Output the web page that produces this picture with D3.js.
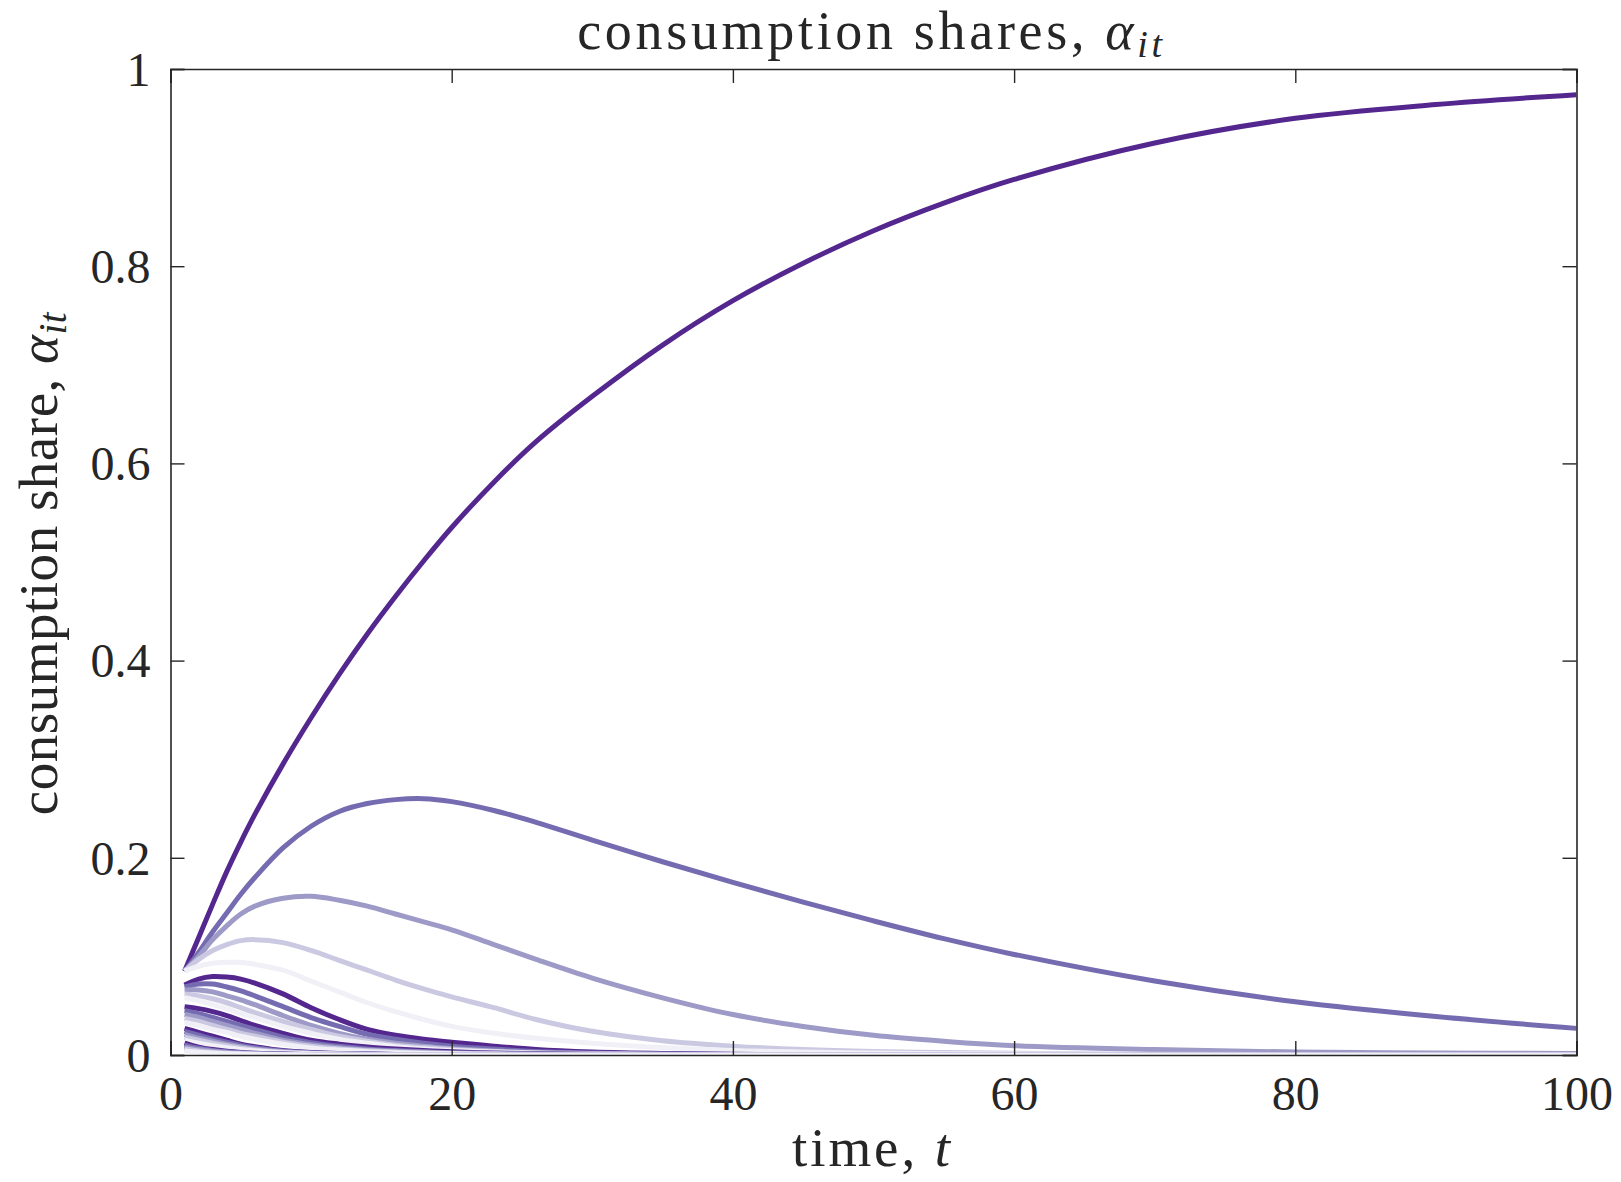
<!DOCTYPE html>
<html>
<head>
<meta charset="utf-8">
<script src="https://cdn.jsdelivr.net/npm/d3@7"></script>
<style>
  html, body { margin: 0; padding: 0; background: #ffffff; }
  svg { display: block; }
  text { font-family: "Liberation Serif", "Times New Roman", serif; fill: #262626; }
</style>
</head>
<body>
<svg id="chart" width="1621" height="1182"></svg>
<script>
// ---- data ----
const time = [1,2,3,4,5,6,8,10,12,14,16,18,20,23,26,30,35,40,45,50,55,60,70,80,90,100];

const s01 = [0.085,0.119,0.153,0.186,0.216,0.244,0.295,0.342,0.386,0.427,0.465,0.501,0.535,0.581,0.622,0.668,0.720,0.765,0.803,0.836,0.864,0.888,0.925,0.950,0.964,0.974];
const s02 = [0.085,0.104,0.125,0.144,0.163,0.180,0.210,0.232,0.247,0.255,0.259,0.260,0.257,0.248,0.236,0.218,0.196,0.175,0.155,0.136,0.118,0.102,0.075,0.054,0.039,0.027];
const s03 = [0.085,0.100,0.117,0.131,0.143,0.151,0.159,0.161,0.157,0.151,0.143,0.135,0.127,0.112,0.097,0.078,0.058,0.041,0.029,0.020,0.014,0.0095,0.0055,0.003,0.002,0.0015];
const s04 = [0.085,0.097,0.106,0.112,0.116,0.117,0.114,0.106,0.096,0.086,0.076,0.067,0.059,0.048,0.036,0.024,0.0145,0.009,0.0055,0.0035,0.0025,0.0017,0.0008,0.0004,0.0002,0.0001];
const s05 = [0.085,0.090,0.093,0.094,0.094,0.092,0.086,0.075,0.064,0.053,0.044,0.036,0.029,0.022,0.017,0.012,0.0075,0.0045,0.003,0.002,0.0013,0.001,0.0005,0.0002,0.0001,0];
const s06 = [0.071,0.077,0.0795,0.079,0.077,0.073,0.062,0.048,0.036,0.026,0.020,0.016,0.013,0.009,0.0055,0.003,0.0015,0.0008,0.0004,0.0002,0.0001,0,0,0,0,0];
const s07 = [0.069,0.072,0.072,0.069,0.065,0.060,0.049,0.038,0.029,0.021,0.016,0.012,0.009,0.006,0.0035,0.002,0.001,0.0005,0.0002,0.0001,0,0,0,0,0,0];
const s08 = [0.066,0.066,0.064,0.060,0.056,0.051,0.040,0.030,0.022,0.016,0.012,0.009,0.0065,0.004,0.0025,0.0015,0.0007,0.0003,0.0001,0,0,0,0,0,0,0];
const s09 = [0.062,0.060,0.057,0.053,0.048,0.043,0.034,0.026,0.019,0.014,0.010,0.0075,0.0055,0.0035,0.002,0.0012,0.0005,0.0002,0.0001,0,0,0,0,0,0,0];
const s10 = [0.058,0.055,0.051,0.047,0.042,0.038,0.029,0.022,0.016,0.012,0.0085,0.0062,0.0045,0.003,0.0018,0.001,0.0004,0.0002,0,0,0,0,0,0,0,0];
const s11 = [0.049,0.047,0.044,0.040,0.035,0.030,0.022,0.015,0.011,0.008,0.006,0.0045,0.0033,0.002,0.0012,0.0007,0.0003,0.0001,0,0,0,0,0,0,0,0];
const s12 = [0.045,0.042,0.038,0.034,0.030,0.026,0.018,0.0125,0.0088,0.0062,0.0045,0.0033,0.0024,0.0015,0.001,0.0005,0.0002,0.0001,0,0,0,0,0,0,0,0];
const s13 = [0.041,0.038,0.034,0.030,0.026,0.022,0.015,0.0105,0.0073,0.0051,0.0037,0.0027,0.0019,0.0012,0.0007,0.0004,0.0002,0,0,0,0,0,0,0,0,0];
const s14 = [0.037,0.034,0.030,0.026,0.022,0.019,0.013,0.0088,0.006,0.0042,0.003,0.0021,0.0015,0.0009,0.0005,0.0003,0.0001,0,0,0,0,0,0,0,0,0];
const s15 = [0.033,0.030,0.026,0.023,0.019,0.016,0.011,0.0072,0.005,0.0034,0.0024,0.0017,0.0012,0.0007,0.0004,0.0002,0,0,0,0,0,0,0,0,0,0];
const s16 = [0.027,0.023,0.019,0.015,0.011,0.0085,0.0045,0.0025,0.0015,0.001,0.0006,0.0004,0.0003,0.0002,0.0001,0,0,0,0,0,0,0,0,0,0,0];
const s17 = [0.024,0.020,0.016,0.013,0.0098,0.0074,0.004,0.0022,0.0013,0.0008,0.0005,0.0003,0.0002,0.0001,0,0,0,0,0,0,0,0,0,0,0,0];
const s18 = [0.021,0.017,0.014,0.011,0.0083,0.0062,0.0034,0.0019,0.0011,0.0007,0.0004,0.0003,0.0002,0.0001,0,0,0,0,0,0,0,0,0,0,0,0];
const s19 = [0.018,0.015,0.012,0.0093,0.007,0.0052,0.0028,0.0016,0.0009,0.0005,0.0003,0.0002,0.0001,0,0,0,0,0,0,0,0,0,0,0,0,0];
const s20 = [0.015,0.012,0.0095,0.0075,0.0057,0.0043,0.0023,0.0013,0.0007,0.0004,0.0003,0.0002,0.0001,0,0,0,0,0,0,0,0,0,0,0,0,0];
const s21 = [0.012,0.008,0.0055,0.0038,0.0026,0.0018,0.0009,0.0004,0.0002,0.0001,0,0,0,0,0,0,0,0,0,0,0,0,0,0,0,0];
const s22 = [0.010,0.0068,0.0047,0.0032,0.0022,0.0015,0.0007,0.0003,0.0002,0.0001,0,0,0,0,0,0,0,0,0,0,0,0,0,0,0,0];
const s23 = [0.008,0.0055,0.0038,0.0026,0.0018,0.0012,0.0006,0.0003,0.0001,0,0,0,0,0,0,0,0,0,0,0,0,0,0,0,0,0];
const s24 = [0.006,0.0041,0.0028,0.0019,0.0013,0.0009,0.0004,0.0002,0.0001,0,0,0,0,0,0,0,0,0,0,0,0,0,0,0,0,0];
const s25 = [0.004,0.0027,0.0019,0.0013,0.0009,0.0006,0.0003,0.0001,0,0,0,0,0,0,0,0,0,0,0,0,0,0,0,0,0,0];

const seriesList = [s01,s02,s03,s04,s05,s06,s07,s08,s09,s10,s11,s12,s13,s14,s15,s16,s17,s18,s19,s20,s21,s22,s23,s24,s25];
const palette = ["#54278f","#756bb1","#9e9ac8","#cbc9e2","#f2f0f7"];

const xTicks = [0,20,40,60,80,100];
const yTicks = [0,0.2,0.4,0.6,0.8,1];
const yTickLabels = ["0","0.2","0.4","0.6","0.8","1"];
const titleText = "consumption shares, ";
const xLabelText = "time, ";
const yLabelText = "consumption share, ";

// ---- layout ----
const svg = d3.select("#chart");
const pLeft = 170.5, pRight = 1576.5, pTop = 69, pBottom = 1055;
const x = d3.scaleLinear().domain([0,100]).range([pLeft,pRight]);
const y = d3.scaleLinear().domain([0,1]).range([pBottom,pTop]);

svg.append("defs").append("clipPath").attr("id","clip")
  .append("rect").attr("x",pLeft).attr("y",pTop - 3).attr("width",pRight-pLeft).attr("height",pBottom-pTop + 3);

const line = d3.line()
  .x((d,i) => x(time[i]))
  .y(d => y(Math.max(0, d)))
  .curve(d3.curveCatmullRom.alpha(0.5));

const gLines = svg.append("g").attr("clip-path","url(#clip)");
seriesList.forEach((s,k) => {
  gLines.append("path")
    .attr("d", line(s))
    .attr("fill","none")
    .attr("stroke", palette[k % palette.length])
    .attr("stroke-width", 5)
    .attr("stroke-linejoin","round")
    .attr("stroke-linecap","butt");
});

// ---- axes (box with inward ticks on all sides) ----
const tickLen = 14;
const axisColor = "#262626";
const axB = svg.append("g").attr("transform",`translate(0,${pBottom})`)
  .call(d3.axisBottom(x).tickValues(xTicks).tickSize(-tickLen).tickPadding(27).tickFormat(d3.format("d")));
const axT = svg.append("g").attr("transform",`translate(0,${pTop})`)
  .call(d3.axisTop(x).tickValues(xTicks).tickSize(-tickLen).tickFormat(""));
const axL = svg.append("g").attr("transform",`translate(${pLeft},0)`)
  .call(d3.axisLeft(y).tickValues(yTicks).tickSize(-tickLen).tickPadding(20).tickFormat((d,i)=>yTickLabels[i]));
const axR = svg.append("g").attr("transform",`translate(${pRight},0)`)
  .call(d3.axisRight(y).tickValues(yTicks).tickSize(-tickLen).tickFormat(""));

[axB,axT,axL,axR].forEach(a => {
  a.select(".domain").attr("stroke",axisColor).attr("stroke-width",1.6);
  a.selectAll(".tick line").attr("stroke",axisColor).attr("stroke-width",1.4);
  a.selectAll(".tick text").attr("font-family","Liberation Serif, serif").attr("font-size",48).attr("fill","#262626");
});
axB.selectAll(".tick text").attr("dy","0").attr("y", 1110 - pBottom);
axL.selectAll(".tick text").attr("dy","0.34em");

// ---- helper to stretch text to target width ----
function fitWidth(sel, target) {
  const node = sel.node();
  const w = node.getComputedTextLength();
  const n = node.textContent.length;
  if (n > 1) sel.attr("letter-spacing", ((target - w) / (n - 1)).toFixed(2));
}

// ---- title ----
const title = svg.append("text")
  .attr("x", 871.5).attr("y", 49)
  .attr("text-anchor","middle")
  .attr("font-size", 54);
title.append("tspan").text(titleText);
title.append("tspan").attr("font-style","italic").text("α");
title.append("tspan").attr("font-style","italic").attr("font-size",38).attr("dy",8).text("it");
fitWidth(title, 585);

// ---- x label ----
const xl = svg.append("text")
  .attr("x", 872.5).attr("y", 1166)
  .attr("text-anchor","middle")
  .attr("font-size", 55);
xl.append("tspan").text(xLabelText);
xl.append("tspan").attr("font-style","italic").text("t");
fitWidth(xl, 158);

// ---- y label ----
const yl = svg.append("text")
  .attr("transform","translate(57,563.5) rotate(-90)")
  .attr("text-anchor","middle")
  .attr("font-size", 55);
yl.append("tspan").text(yLabelText);
yl.append("tspan").attr("font-style","italic").text("α");
yl.append("tspan").attr("font-style","italic").attr("font-size",39).attr("dy",9).text("it");
fitWidth(yl, 503);
</script>
</body>
</html>
